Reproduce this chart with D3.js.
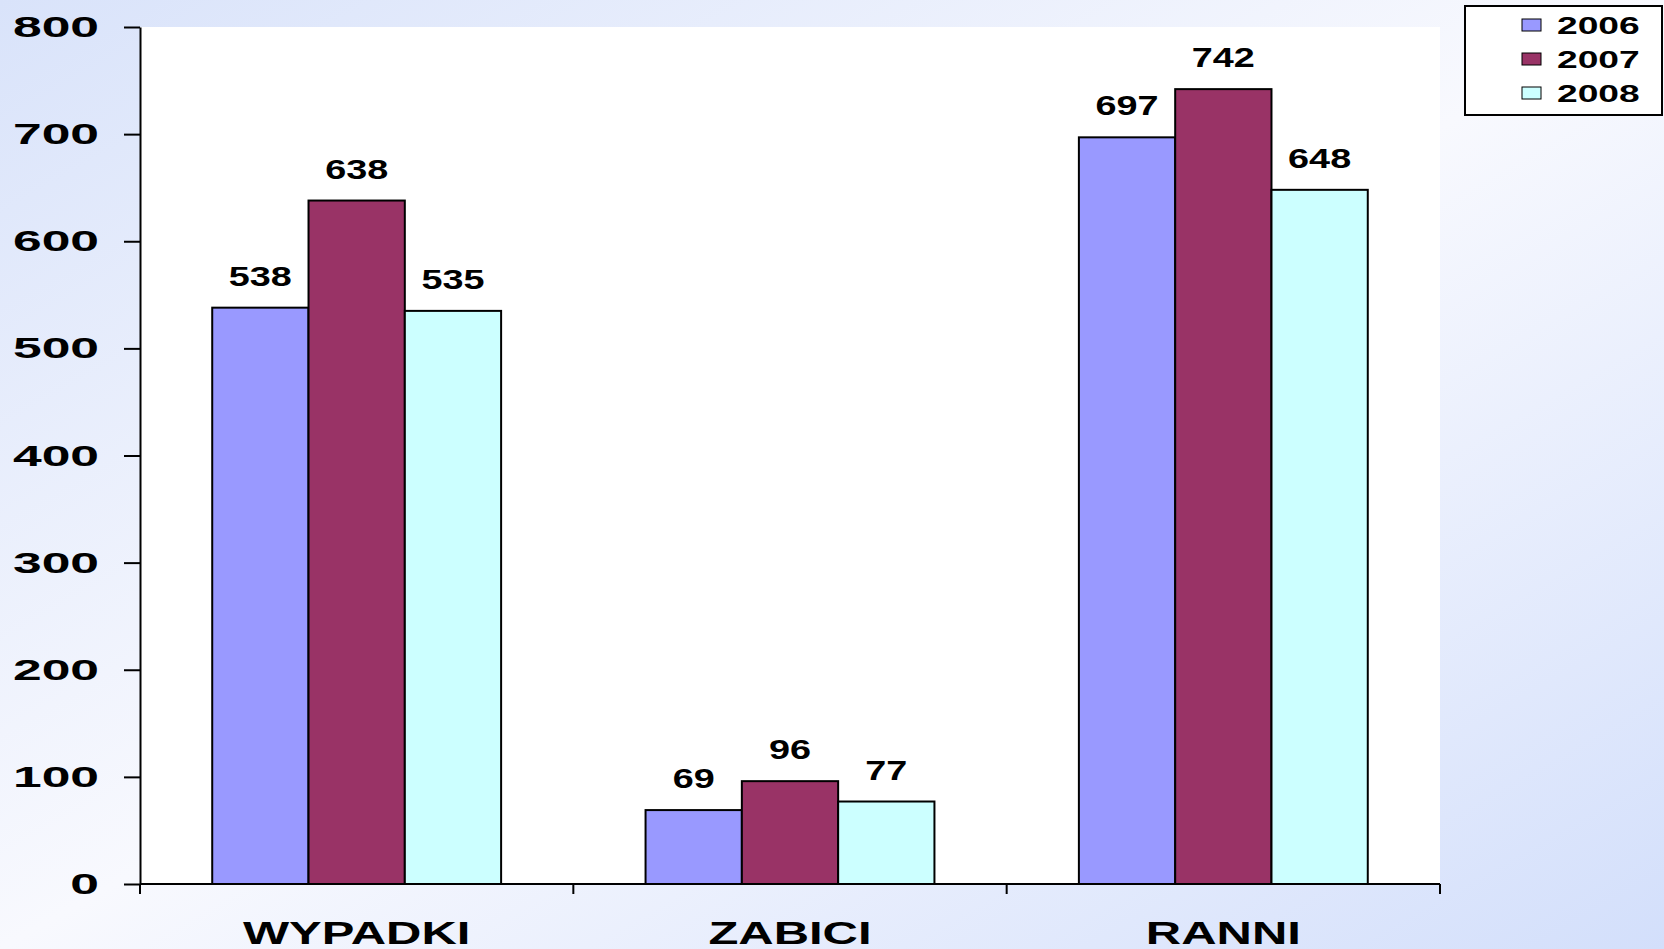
<!DOCTYPE html>
<html>
<head>
<meta charset="utf-8">
<script src="https://cdn.jsdelivr.net/npm/d3@7"></script>
<style>
  body { margin: 0; overflow: hidden; }
  text { font-family: "Liberation Sans", Arial, sans-serif; font-weight: bold; fill: #000; }
</style>
</head>
<body>
<div id="chart"></div>
<script>
// data
var categories = ["WYPADKI", "ZABICI", "RANNI"];
var years = ["2006", "2007", "2008"];
var values2006 = [538, 69, 697];
var values2007 = [638, 96, 742];
var values2008 = [535, 77, 648];
var yTicks = [0, 100, 200, 300, 400, 500, 600, 700, 800];
var colors = ["#9999ff", "#993366", "#ccffff"];

var width = 1664, height = 949;
var margin = {top: 27, right: 224, bottom: 65, left: 140};
var plotW = width - margin.left - margin.right,
    plotH = height - margin.top - margin.bottom;

var svg = d3.select("#chart").append("svg")
    .attr("width", width)
    .attr("height", height);

// background gradient, blue corners and a pale diagonal band
var defs = svg.append("defs");
var grad = defs.append("linearGradient")
    .attr("id", "bg")
    .attr("x1", "0%").attr("y1", "0%")
    .attr("x2", "100%").attr("y2", "100%");
grad.append("stop").attr("offset", "0%").attr("stop-color", "#d9e3fa");
grad.append("stop").attr("offset", "50%").attr("stop-color", "#f8f9fe");
grad.append("stop").attr("offset", "100%").attr("stop-color", "#d3dffb");
svg.append("rect")
    .attr("width", width).attr("height", height)
    .attr("fill", "url(#bg)");

var g = svg.append("g")
    .attr("transform", "translate(" + margin.left + "," + margin.top + ")");

// plot area
g.append("rect")
    .attr("width", plotW).attr("height", plotH)
    .attr("fill", "#fff");

var x0 = d3.scaleBand().domain(categories).range([0, plotW]);
var x1 = d3.scaleBand().domain(years)
    .range([x0.bandwidth() / 6, x0.bandwidth() * 5 / 6]);
var y = d3.scaleLinear().domain([0, 800]).range([plotH, 0]);

// stretch text sideways like the original picture
function stretch(sel, sx) {
    sel.each(function() {
        var t = d3.select(this);
        var tx = +t.attr("x") || 0, ty = +t.attr("y") || 0;
        t.attr("x", 0).attr("y", 0)
         .attr("transform", "translate(" + tx + "," + ty + ") scale(" + sx + ",1)");
    });
}

var series = [values2006, values2007, values2008];
var rows = [];
categories.forEach(function(c, i) {
    years.forEach(function(yr, j) {
        rows.push({cat: c, year: yr, value: series[j][i], color: colors[j]});
    });
});

var groups = g.selectAll(".grp")
    .data(rows)
    .enter().append("g")
    .attr("transform", function(d) { return "translate(" + (x0(d.cat) + x1(d.year)) + ",0)"; });

groups.append("rect")
    .attr("y", function(d) { return y(d.value); })
    .attr("width", x1.bandwidth())
    .attr("height", function(d) { return plotH - y(d.value); })
    .attr("fill", function(d) { return d.color; })
    .attr("stroke", "#000")
    .attr("stroke-width", 2);

var vals = groups.append("text")
    .attr("x", x1.bandwidth() / 2)
    .attr("y", function(d) { return y(d.value) - 22; })
    .attr("text-anchor", "middle")
    .style("font-size", "27px")
    .text(function(d) { return d.value; });
stretch(vals, 1.4);

// y axis
var yAxis = g.append("g")
    .call(d3.axisLeft(y).tickValues(yTicks).tickSize(16).tickPadding(25).tickSizeOuter(0));
yAxis.select(".domain").attr("stroke-width", 2);
yAxis.selectAll(".tick line").attr("stroke-width", 2);
var yLabels = yAxis.selectAll(".tick text")
    .style("font-size", "30px")
    .attr("font-family", null);
stretch(yLabels, 1.72);

// x axis: line, boundary ticks and centred labels
var xAxis = g.append("g").attr("transform", "translate(0," + plotH + ")");
xAxis.append("line")
    .attr("x1", 0).attr("x2", plotW)
    .attr("stroke", "#000").attr("stroke-width", 2);
var edges = categories.map(function(c) { return x0(c); }).concat([plotW]);
xAxis.selectAll(".edge")
    .data(edges)
    .enter().append("line")
    .attr("x1", function(d) { return d; })
    .attr("x2", function(d) { return d; })
    .attr("y1", 0).attr("y2", 10)
    .attr("stroke", "#000").attr("stroke-width", 2);
var catLabels = xAxis.selectAll(".cat")
    .data(categories)
    .enter().append("text")
    .attr("x", function(d) { return x0(d) + x0.bandwidth() / 2; })
    .attr("y", 60)
    .attr("text-anchor", "middle")
    .style("font-size", "32px")
    .text(function(d) { return d; });
stretch(catLabels, 1.53);

// legend
var legend = svg.append("g").attr("transform", "translate(1465,6)");
legend.append("rect")
    .attr("width", 197).attr("height", 109)
    .attr("fill", "#fff")
    .attr("stroke", "#000").attr("stroke-width", 2);
var items = legend.selectAll(".item")
    .data(years)
    .enter().append("g")
    .attr("transform", function(d, i) { return "translate(57," + (19 + i * 34) + ")"; });
items.append("rect")
    .attr("y", -6)
    .attr("width", 19).attr("height", 12)
    .attr("fill", function(d, i) { return colors[i]; })
    .attr("stroke", "#000").attr("stroke-width", 1);
var legText = items.append("text")
    .attr("x", 35)
    .attr("y", 9)
    .style("font-size", "24px")
    .text(function(d) { return d; });
stretch(legText, 1.55);
</script>
</body>
</html>
